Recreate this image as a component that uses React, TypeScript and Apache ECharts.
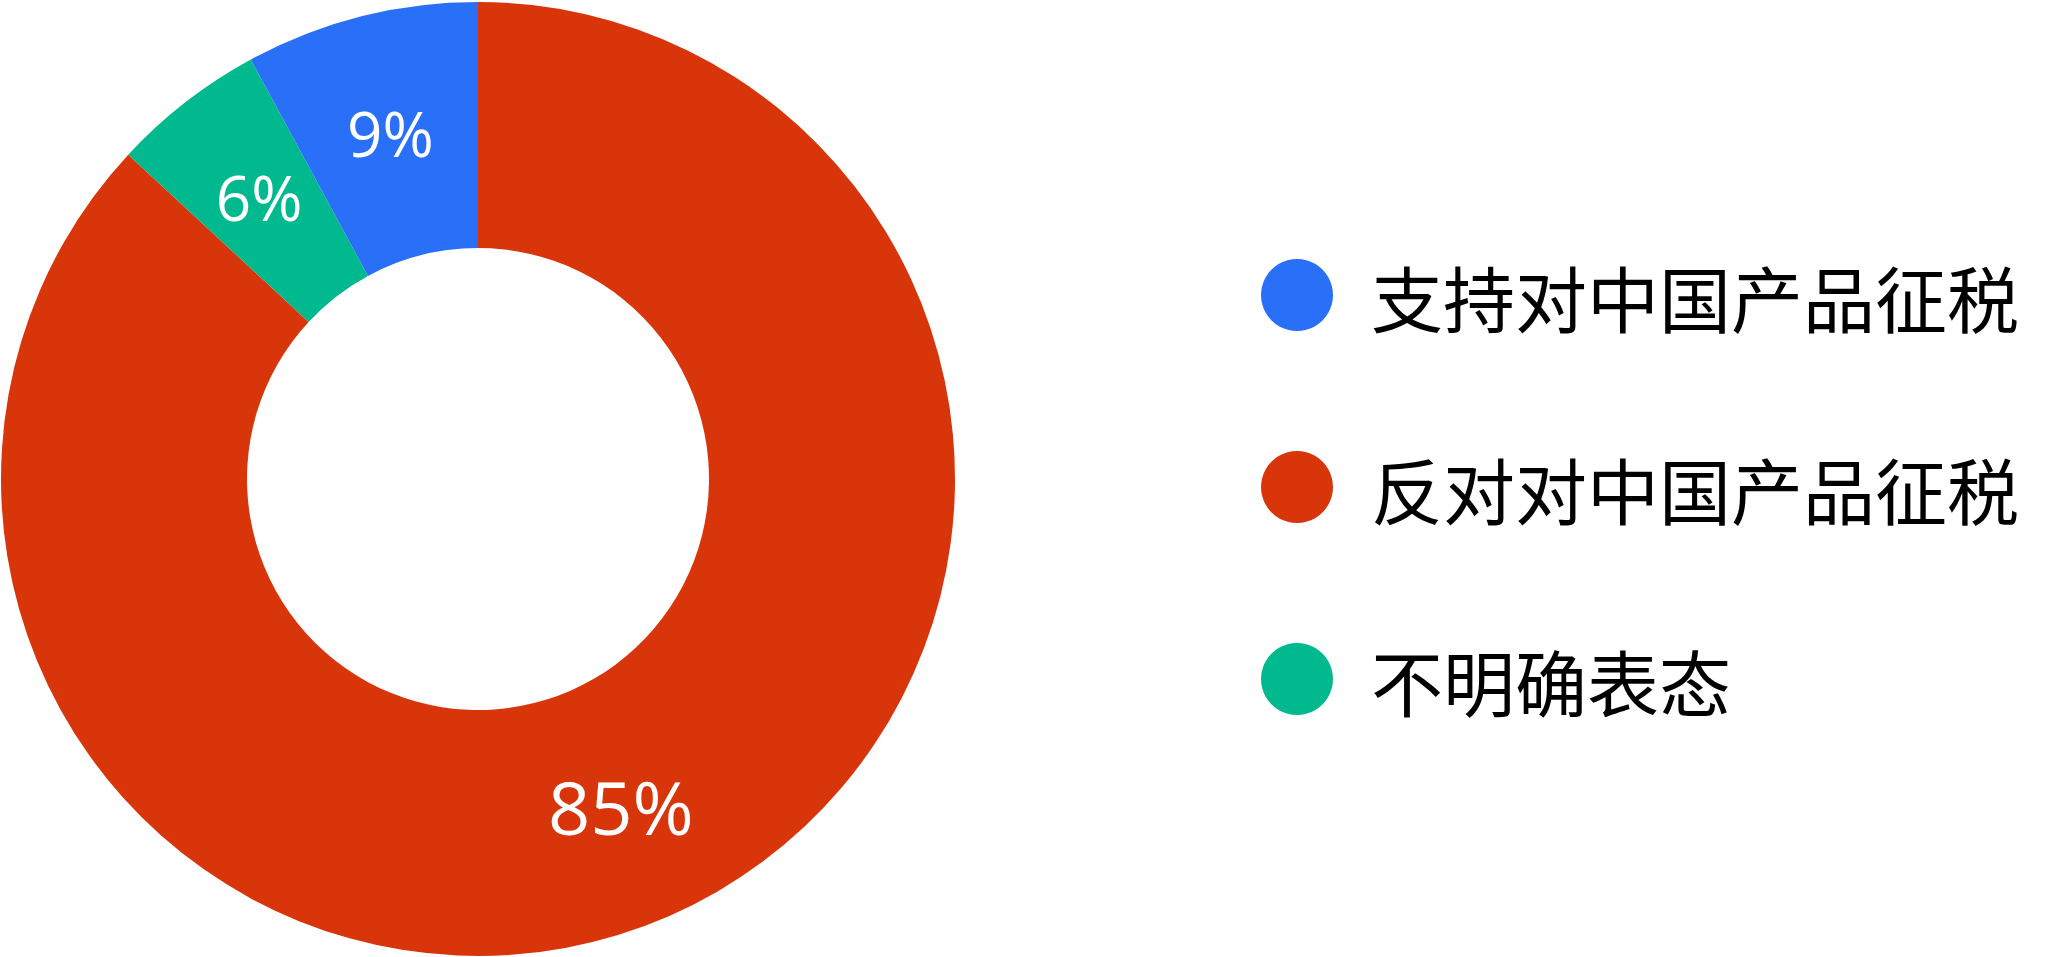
import { useEffect, useRef } from "react";
import * as echarts from "echarts";

// slices in drawing order, clockwise from 12 o'clock
const categories = ["反对对中国产品征税", "不明确表态", "支持对中国产品征税"];
const shares = [86.9, 5.2, 7.9];
const shareLabels = ["85%", "6%", "9%"];
const labelSizes = [74, 62, 62];
const colors = ["#d9350b", "#01b98f", "#2a6ff7"];

// legend reads top to bottom
const legendOrder = ["支持对中国产品征税", "反对对中国产品征税", "不明确表态"];

export default function App() {
  const chartRef = useRef<HTMLDivElement>(null);

  useEffect(() => {
    if (!chartRef.current) return;

    const chart = echarts.init(chartRef.current, null, { renderer: "svg" });

    chart.setOption({
      animation: false,
      color: colors,
      tooltip: { show: false },
      legend: {
        orient: "vertical",
        left: 1256,
        top: 250,
        itemWidth: 72,
        itemHeight: 72,
        itemGap: 112,
        icon: "circle",
        selectedMode: false,
        data: legendOrder,
        textStyle: {
          color: "#000000",
          fontSize: 72,
          lineHeight: 80,
          fontFamily: "Noto Sans CJK SC",
          padding: [0, 0, 0, 33],
        },
      },
      series: [
        {
          name: "态度",
          type: "pie",
          center: [478, 479],
          radius: [231, 477],
          startAngle: 90,
          clockwise: true,
          avoidLabelOverlap: false,
          labelLine: { show: false },
          emphasis: { disabled: true },
          label: {
            show: true,
            position: "inside",
            color: "#ffffff",
            fontFamily: "Open Sans",
            fontWeight: 400,
            formatter: (p: any) => shareLabels[p.dataIndex],
          },
          data: categories.map((name, i) => ({
            name,
            value: shares[i],
            label: { fontSize: labelSizes[i] },
          })),
        },
      ],
    });

    return () => {
      chart.dispose();
    };
  }, []);

  return (
    <div
      ref={chartRef}
      style={{ position: "absolute", left: 0, top: 0, width: "2048px", height: "957px" }}
    />
  );
}
